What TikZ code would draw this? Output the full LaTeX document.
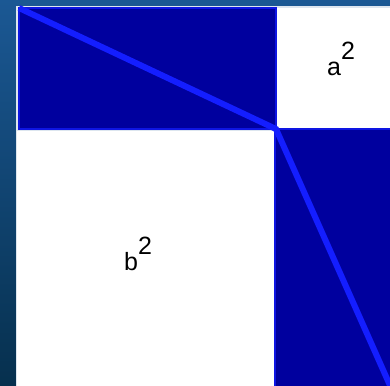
\documentclass[tikz,border=0pt]{standalone}
\usepackage{fontspec}
\setmainfont{Liberation Sans}
\usepackage{xcolor}
\definecolor{bgtop}{RGB}{27,88,148}
\definecolor{bgbot}{RGB}{6,48,78}
\definecolor{navy}{RGB}{0,0,158}
\definecolor{lineblue}{RGB}{20,30,255}
\newcommand{\sqlabel}[1]{#1\raisebox{16pt}{2}}

\begin{document}
\begin{tikzpicture}[x=1pt,y=-1pt]

% Background
\useasboundingbox (0,0) rectangle (390,385);
\shade[top color=bgtop, bottom color=bgbot] (0,0) rectangle (390,385);

% Square outline
\fill[white!85!bgtop] (16,6) rectangle (392,387);

% a^2 and b^2
\fill[white] (277,8) rectangle (392,128);
\fill[white] (17,131) rectangle (274,387);

% navy rectangles
\draw[navy, fill=navy, draw=lineblue!70!navy, line width=2pt] (19,8) rectangle (276,129);
\draw[navy, fill=navy, draw=lineblue!70!navy, line width=2pt] (275,129) rectangle (393,388);

% diagonal
\coordinate (O) at (19,8);
\coordinate (P) at (276,129);
\coordinate (Q) at (392,390);
\draw[lineblue, line width=6pt] (O) -- (P) -- (Q);

% labels
\node[font=\fontsize{25}{30}\selectfont] (a2) at (341,59) {\sqlabel{a}};
\node[font=\fontsize{25}{30}\selectfont] (b2) at (138,254) {\sqlabel{b}};

\end{tikzpicture}
\end{document}
